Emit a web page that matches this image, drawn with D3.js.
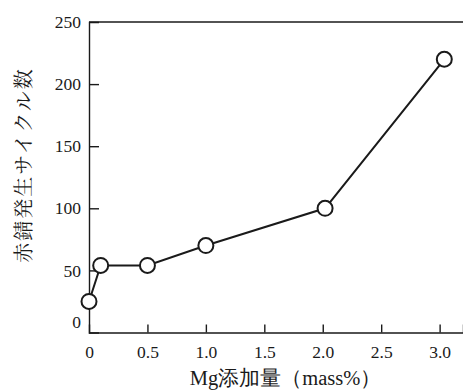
<!DOCTYPE html>
<html>
<head>
<meta charset="utf-8">
<script src="https://cdn.jsdelivr.net/npm/d3@7"></script>
</head>
<body style="margin:0">
<svg id="chart" width="463" height="390" style="display:block"></svg>
<script>
const mgAdded = [0, 0.1, 0.5, 1.0, 2.02, 3.04];
const rustCycles = [25, 54, 54, 70, 100, 220];
const xTicks = [0, 0.5, 1.0, 1.5, 2.0, 2.5, 3.0];
const yTicks = [0, 50, 100, 150, 200, 250];
const xTitle = "Mg添加量（mass%）";
const yTitle = "赤錆発生サイクル数";

const width = 463, height = 390;
const margin = { top: 22, right: 0, bottom: 57.5, left: 89 };
const w = width - margin.left - margin.right,
      h = height - margin.top - margin.bottom;

const serif = "'Liberation Serif'";
const ink = "#1a1a1a";

const svg = d3.select("#chart");
const g = svg.append("g").attr("transform", `translate(${margin.left},${margin.top})`);

const x = d3.scaleLinear().domain([0, 3.2]).range([0, w]);
const y = d3.scaleLinear().domain([0, 250]).range([h, 0]);

// x axis, ticks pointing inward
const xAxis = g.append("g").attr("transform", `translate(0,${h})`)
  .call(d3.axisBottom(x).tickValues(xTicks).tickSize(-8).tickPadding(13)
    .tickFormat(d => d === 0 ? "0" : d3.format(".1f")(d)));
xAxis.attr("font-family", null).attr("font-size", null);
xAxis.select(".domain").attr("stroke", ink).attr("stroke-width", 1.4);
xAxis.selectAll(".tick line").attr("stroke", ink).attr("stroke-width", 1.4)
  .attr("display", d => d === 0 ? "none" : null);
xAxis.selectAll(".tick text").style("font-family", serif).style("font-size", "17.5px").attr("fill", ink);

// y axis, ticks pointing inward
const yAxis = g.append("g")
  .call(d3.axisLeft(y).tickValues(yTicks).tickSize(-10).tickPadding(8));
yAxis.attr("font-family", null).attr("font-size", null);
yAxis.select(".domain").attr("stroke", ink).attr("stroke-width", 1.4);
yAxis.selectAll(".tick line").attr("stroke", ink).attr("stroke-width", 1.4)
  .attr("display", d => (d === 0 || d === 250) ? "none" : null);
yAxis.selectAll(".tick text").style("font-family", serif).style("font-size", "17.5px").attr("fill", ink)
  .attr("dy", d => d === 0 ? "-0.3em" : "0.32em");

// top frame line
g.append("line").attr("x1", 0).attr("x2", w).attr("y1", y(250)).attr("y2", y(250))
  .attr("stroke", ink).attr("stroke-width", 1.4);

// axis titles
svg.append("text").attr("x", 285.5).attr("y", 385).attr("text-anchor", "middle")
  .style("font-family", serif).style("font-size", "20.5px")
  .attr("fill", ink).text(xTitle);
svg.append("text").attr("transform", "rotate(-90)").attr("x", -165).attr("y", 31)
  .attr("text-anchor", "middle")
  .style("font-family", "'Noto Serif CJK JP'")
  .style("font-size", "20px").attr("letter-spacing", 2)
  .attr("fill", ink).text(yTitle);

const data = mgAdded.map((d, i) => ({ x: d, y: rustCycles[i] }));
const line = d3.line().x(d => x(d.x)).y(d => y(d.y));
g.append("path").datum(data).attr("fill", "none").attr("stroke", ink)
  .attr("stroke-width", 2).attr("d", line);

g.selectAll(".pt").data(data).enter().append("circle")
  .attr("cx", d => x(d.x)).attr("cy", d => y(d.y)).attr("r", 7.5)
  .attr("fill", "#fff").attr("stroke", ink).attr("stroke-width", 2);
</script>
</body>
</html>
